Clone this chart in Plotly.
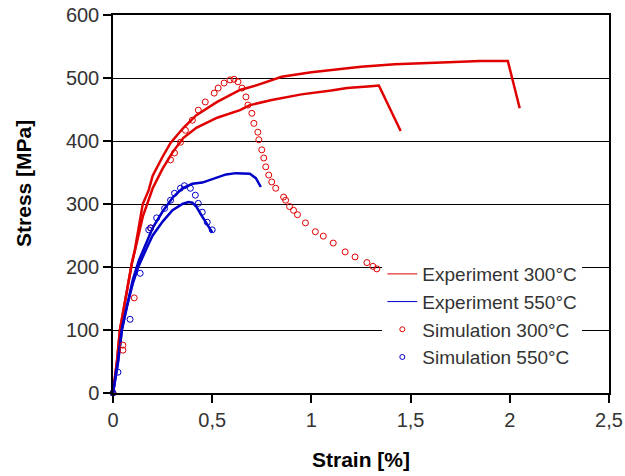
import plotly.graph_objects as go

# Experiment 300 °C, specimen A (longer ductility)
exp300a_strain = [0, 0.02, 0.035, 0.06, 0.075, 0.095, 0.11, 0.13, 0.15, 0.18, 0.2, 0.25, 0.29, 0.355,
                  0.42, 0.525, 0.64, 0.73, 0.85, 1.0, 1.11, 1.25, 1.42, 1.55, 1.69, 1.85, 1.99, 2.05]
exp300a_stress = [0, 50, 100, 145, 174, 206, 227, 262, 300, 322, 345, 375, 397, 421,
                  441, 462, 481, 489, 502, 509, 513, 518, 522, 523, 525, 527, 527, 452]

# Experiment 300 °C, specimen B
exp300b_strain = [0, 0.02, 0.035, 0.06, 0.075, 0.095, 0.11, 0.13, 0.15, 0.2, 0.25, 0.3, 0.355, 0.42,
                  0.525, 0.64, 0.69, 0.8, 0.95, 1.1, 1.18, 1.3, 1.34, 1.45]
exp300b_stress = [0, 50, 100, 145, 174, 206, 225, 255, 280, 325, 356, 382, 405, 421,
                  437, 449, 457, 465, 474, 480, 484, 487, 488, 416]

# Experiment 550 °C, specimen A
exp550a_strain = [0, 0.025, 0.045, 0.07, 0.1, 0.13, 0.17, 0.2, 0.25, 0.3, 0.35, 0.4, 0.45, 0.5,
                  0.57, 0.62, 0.69, 0.72, 0.745]
exp550a_stress = [0, 50, 102, 140, 180, 210, 240, 262, 288, 310, 325, 332, 334, 339,
                  347, 349, 348, 341, 327]

# Experiment 550 °C, specimen B
exp550b_strain = [0, 0.025, 0.045, 0.07, 0.1, 0.127, 0.17, 0.2, 0.25, 0.3, 0.35, 0.38, 0.4, 0.42,
                  0.45, 0.48, 0.5]
exp550b_stress = [0, 48, 100, 137, 174, 200, 230, 250, 272, 290, 300, 303, 302, 296,
                  280, 265, 255]

# Simulation 300 °C
sim300_strain = [0, 0.05, 0.05, 0.107, 0.19, 0.29, 0.31, 0.34, 0.365, 0.40, 0.43, 0.465, 0.51, 0.53,
                 0.56, 0.59, 0.61, 0.63, 0.65, 0.67, 0.68, 0.70, 0.71, 0.73, 0.735, 0.75, 0.76,
                 0.77, 0.785, 0.80, 0.82, 0.86, 0.87, 0.89, 0.91, 0.93, 0.97, 1.02, 1.06, 1.11,
                 1.17, 1.22, 1.28, 1.31, 1.33]
sim300_stress = [0, 68, 76, 151, 262, 370, 381, 398, 417, 433, 449, 462, 476, 484,
                 492, 497, 498, 494, 484, 470, 457, 444, 428, 414, 402, 386, 373,
                 359, 346, 335, 325, 311, 306, 296, 290, 283, 270, 256, 249, 238,
                 224, 216, 207, 201, 197]

# Simulation 550 °C
sim550_strain = [0, 0.025, 0.086, 0.137, 0.18, 0.19, 0.22, 0.26, 0.29, 0.31, 0.34, 0.36, 0.39,
                 0.415, 0.43, 0.45, 0.475, 0.5]
sim550_stress = [0, 33, 117, 190, 259, 262, 278, 293, 306, 317, 325, 329, 325,
                 314, 301, 287, 271, 259]

x_ticks = [0, 0.5, 1, 1.5, 2, 2.5]
x_tick_text = ["0", "0,5", "1", "1,5", "2", "2,5"]
y_ticks = [0, 100, 200, 300, 400, 500, 600]

RED = "#e00000"
BLUE = "#0000c8"
FONT = "Liberation Sans, Arial, sans-serif"

fig = go.Figure()

# measured curves (two specimens per temperature)
for xs, ys, col in [(exp300a_strain, exp300a_stress, RED), (exp300b_strain, exp300b_stress, RED),
                    (exp550a_strain, exp550a_stress, BLUE), (exp550b_strain, exp550b_stress, BLUE)]:
    fig.add_trace(go.Scatter(x=xs, y=ys, mode="lines", line=dict(color=col, width=2.5),
                             showlegend=False, cliponaxis=False, hoverinfo="x+y"))

# simulated curves
for xs, ys, col in [(sim300_strain, sim300_stress, RED), (sim550_strain, sim550_stress, BLUE)]:
    fig.add_trace(go.Scatter(x=xs, y=ys, mode="markers",
                             marker=dict(symbol="circle-open", size=6, color=col, line=dict(width=1)),
                             showlegend=False, cliponaxis=False, hoverinfo="x+y"))

# legend keys with thin line samples
legend_items = [
    ("Experiment 300°C", "lines", RED),
    ("Experiment 550°C", "lines", BLUE),
    ("Simulation 300°C", "markers", RED),
    ("Simulation 550°C", "markers", BLUE),
]
for name, mode, col in legend_items:
    fig.add_trace(go.Scatter(x=[None], y=[None], mode=mode, name=name,
                             line=dict(color=col, width=1),
                             marker=dict(symbol="circle-open", size=5, color=col, line=dict(width=1))))

axis_common = dict(
    showline=True, linecolor="black", linewidth=1.5, mirror=True,
    ticks="outside", ticklen=8, tickcolor="black", tickwidth=1.5,
    tickfont=dict(family=FONT, size=20, color="#333333"),
    zeroline=False, automargin=False,
)

fig.update_xaxes(range=[0, 2.5], tickvals=x_ticks, ticktext=x_tick_text, showgrid=False,
                 **axis_common)
fig.update_yaxes(range=[0, 600], tickvals=y_ticks, showgrid=True, gridcolor="black", gridwidth=1.2,
                 **axis_common)

fig.add_annotation(text="<b>Strain [%]</b>", xref="paper", yref="paper", x=0.5, y=-0.175,
                   xanchor="center", yanchor="middle", showarrow=False,
                   font=dict(family=FONT, size=21, color="black"))
fig.add_annotation(text="<b>Stress [MPa]</b>", xref="paper", yref="paper", x=-0.182, y=0.555,
                   xanchor="center", yanchor="middle", textangle=-90, showarrow=False,
                   font=dict(family=FONT, size=21, color="black"))

fig.update_layout(
    width=625, height=476,
    margin=dict(l=113, r=16, t=15, b=83),
    paper_bgcolor="white", plot_bgcolor="white",
    font=dict(family=FONT),
    showlegend=True,
    legend=dict(x=0.543, y=0.365, xanchor="left", yanchor="top",
                bgcolor="white", borderwidth=0, tracegroupgap=0,
                font=dict(family=FONT, size=19, color="#333333"),
                itemwidth=30),
)

fig.write_html("out.html")
